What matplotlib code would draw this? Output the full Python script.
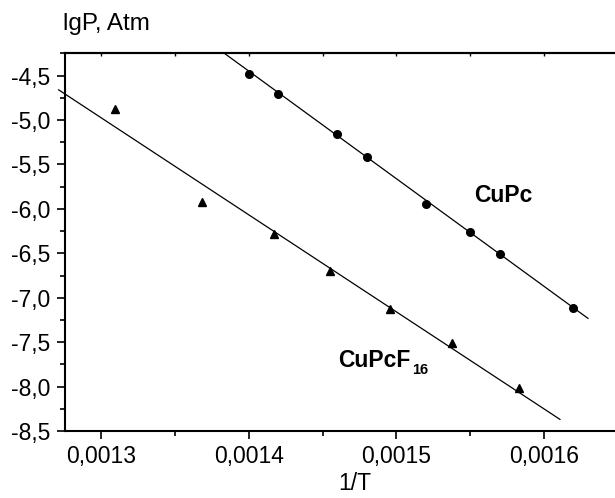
#!/usr/bin/env python3
"""lgP vs 1/T for CuPc and CuPcF16 with linear fits."""
import matplotlib
matplotlib.use("Agg")
import matplotlib.pyplot as plt
from matplotlib.ticker import MultipleLocator

plt.rcParams["font.family"] = ["Liberation Sans", "DejaVu Sans"]

# CuPc (circles)
cupc_x = [0.00140, 0.00142, 0.00146, 0.00148, 0.00152, 0.00155, 0.00157, 0.00162]
cupc_y = [-4.48, -4.71, -5.16, -5.42, -5.945, -6.26, -6.51, -7.11]
cupc_fit_x = [0.001383, 0.001630]
cupc_fit_y = [-4.244, -7.232]

# CuPcF16 (triangles)
f16_x = [0.001309, 0.001368, 0.001417, 0.001455, 0.001496, 0.001538, 0.001583]
f16_y = [-4.87, -5.926, -6.286, -6.696, -7.127, -7.514, -8.02]
f16_fit_x = [0.001271, 0.001611]
f16_fit_y = [-4.66, -8.369]

x_ticks = [0.0013, 0.0014, 0.0015, 0.0016]
x_labels = ["0,0013", "0,0014", "0,0015", "0,0016"]
y_ticks = [-4.5, -5.0, -5.5, -6.0, -6.5, -7.0, -7.5, -8.0, -8.5]
y_labels = ["-4,5", "-5,0", "-5,5", "-6,0", "-6,5", "-7,0", "-7,5", "-8,0", "-8,5"]

fig = plt.figure(figsize=(6.15, 4.98), dpi=100)
ax = fig.add_axes([0.105, 0.1345, 0.899, 0.7591])

ax.plot(cupc_fit_x, cupc_fit_y, color="black", lw=0.9)
ax.plot(cupc_x, cupc_y, "o", color="black", ms=5.5)
ax.plot(f16_fit_x, f16_fit_y, color="black", lw=0.9, clip_on=False)
ax.plot(f16_x, f16_y, "^", color="black", ms=6)

ax.set_xlim(0.001275, 0.001650)
ax.set_ylim(-8.5, -4.245)

ax.set_xticks(x_ticks)
ax.set_xticklabels(x_labels)
ax.set_yticks(y_ticks)
ax.set_yticklabels(y_labels)
ax.xaxis.set_minor_locator(MultipleLocator(0.00005))
ax.yaxis.set_minor_locator(MultipleLocator(0.25))

ax.spines["right"].set_visible(False)
for s in ["left", "bottom", "top"]:
    ax.spines[s].set_linewidth(1.5)

ax.tick_params(which="major", direction="out", length=6, width=1.2,
               labelsize=16.5, pad=4)
ax.tick_params(which="minor", direction="out", length=3.5, width=1.2)
ax.tick_params(axis="x", which="both", top=False)

top = ax.secondary_xaxis("top")
top.xaxis.set_major_locator(MultipleLocator(0.00005))
top.tick_params(direction="in", length=2.5, width=1.0, labeltop=False)
top.spines["top"].set_linewidth(1.5)

ax.text(0.0015528, -5.926, "CuPc", fontsize=16.5, fontweight="bold",
        ha="left", va="baseline")
t = ax.text(0.0014605, -7.777, "CuPcF", fontsize=16.5, fontweight="bold",
            ha="left", va="baseline")
ax.annotate("16", xy=(1, 0), xycoords=t, xytext=(1.5, -4),
            textcoords="offset points", fontsize=10.5, fontweight="bold",
            ha="left", va="bottom")

fig.text(63 / 615, 1 - 24 / 498, "lgP, Atm", fontsize=17.5, va="center", ha="left")
fig.text(355 / 615, 0.016, "1/T", fontsize=16.5, va="baseline", ha="center")

fig.savefig("out.png", dpi=100)
